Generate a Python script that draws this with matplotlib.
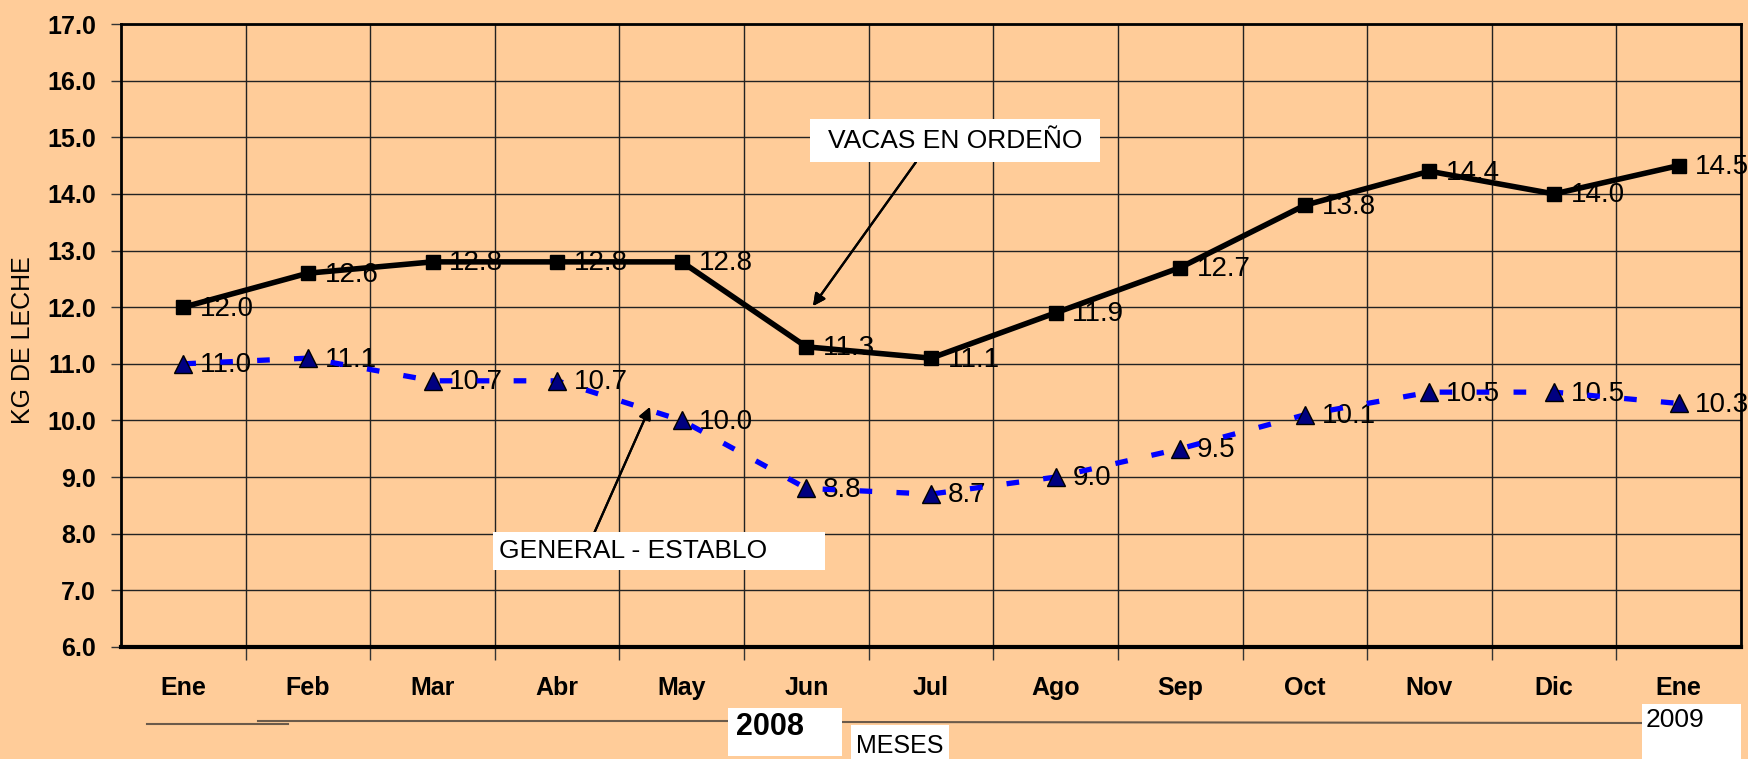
import matplotlib
matplotlib.use("Agg")
import matplotlib.pyplot as plt
from matplotlib.patches import Rectangle
from matplotlib.lines import Line2D

plt.rcParams['font.family'] = ['Liberation Sans', 'DejaVu Sans']

# data
meses = ['Ene', 'Feb', 'Mar', 'Abr', 'May', 'Jun', 'Jul', 'Ago', 'Sep', 'Oct', 'Nov', 'Dic', 'Ene']
vacas_ordeno = [12.0, 12.6, 12.8, 12.8, 12.8, 11.3, 11.1, 11.9, 12.7, 13.8, 14.4, 14.0, 14.5]
general_establo = [11.0, 11.1, 10.7, 10.7, 10.0, 8.8, 8.7, 9.0, 9.5, 10.1, 10.5, 10.5, 10.3]
y_ticks = [6.0, 7.0, 8.0, 9.0, 10.0, 11.0, 12.0, 13.0, 14.0, 15.0, 16.0, 17.0]

BG = '#FFCC99'
W, H = 1748, 759


def px(x, y):
    """pixel position (from top-left) -> figure fraction"""
    return x / W, 1 - y / H


fig = plt.figure(figsize=(W / 100, H / 100), dpi=100, facecolor=BG)
ax = fig.add_axes([121 / W, 1 - 647 / H, (1741 - 121) / W, (647 - 24) / H])
ax.set_facecolor(BG)

x = list(range(len(meses)))

ax.plot(x, vacas_ordeno, color='black', lw=4, marker='s', markersize=10,
        zorder=4)
ax.plot(x, general_establo, color='#0000FF', lw=3.8, dashes=(2.4, 4.6),
        marker='^', markersize=13, markerfacecolor='#000080',
        markeredgecolor='black', markeredgewidth=1, zorder=4)

for xi, v in zip(x, vacas_ordeno):
    ax.annotate(f'{v:.1f}', (xi, v), xytext=(12, -1), textcoords='offset points',
                ha='left', va='center', fontsize=20, zorder=2)
for xi, v in zip(x, general_establo):
    ax.annotate(f'{v:.1f}', (xi, v), xytext=(12, -1), textcoords='offset points',
                ha='left', va='center', fontsize=20, zorder=2)

ax.set_xlim(-0.5, len(meses) - 0.5)
ax.set_ylim(6, 17)
ax.set_yticks(y_ticks)
ax.set_yticklabels([f'{t:.1f}' for t in y_ticks], fontsize=18, fontweight='bold')

# tick marks on the category borders, labels in the middle
ax.set_xticks([i + 0.5 for i in range(len(meses) - 1)])
ax.set_xticklabels([])
ax.set_xticks(x, minor=True)
ax.set_xticklabels(meses, minor=True, fontsize=18, fontweight='bold')
ax.tick_params(axis='x', which='major', direction='out', length=9, width=1, color='#333333')
ax.tick_params(axis='x', which='minor', length=0, pad=21)
ax.tick_params(axis='y', direction='out', length=7, width=1, color='#333333', pad=11)

ax.grid(True, which='major', color='#222222', lw=1.0)
ax.set_axisbelow(True)
for side, w in [('left', 2), ('bottom', 3), ('top', 2), ('right', 2)]:
    ax.spines[side].set_linewidth(w)
    ax.spines[side].set_color('black')

fig.text(23 / W, 1 - 340 / H, 'KG DE LECHE', rotation=90, ha='center', va='center',
         fontsize=18)

# callout boxes with arrows
def box(x0, y0, x1, y1):
    fx0, fy1 = px(x0, y1)
    fx1, fy0 = px(x1, y0)
    fig.patches.append(Rectangle((fx0, fy1), fx1 - fx0, fy0 - fy1, transform=fig.transFigure,
                                 facecolor='white', edgecolor='none', zorder=5))


box(810, 119, 1100, 162)
fig.text(*px(955, 141), 'VACAS EN ORDEÑO', ha='center', va='center', fontsize=19, zorder=6)
fig.add_artist(plt.annotate('', xy=px(813, 306), xycoords='figure fraction',
                            xytext=px(916, 162), textcoords='figure fraction',
                            arrowprops=dict(arrowstyle='-|>', color='black', lw=1.6,
                                            mutation_scale=18, shrinkA=0, shrinkB=0)))

box(493, 532, 825, 570)
fig.text(*px(499, 551), 'GENERAL - ESTABLO', ha='left', va='center', fontsize=19, zorder=6)
fig.add_artist(plt.annotate('', xy=px(650, 407), xycoords='figure fraction',
                            xytext=px(592, 538), textcoords='figure fraction',
                            arrowprops=dict(arrowstyle='-|>', color='black', lw=1.6,
                                            mutation_scale=18, shrinkA=0, shrinkB=0)))

# year markers under the axis
for (xa, ya), (xb, yb) in [((147, 724), (288, 724)), ((258, 721), (728, 721)),
                           ((842, 722), (1642, 723))]:
    fx, fy = zip(px(xa, ya), px(xb, yb))
    fig.add_artist(Line2D(fx, fy, transform=fig.transFigure, color='#6b5a4a', lw=1.5))

box(728, 708, 842, 756)
fig.text(*px(736, 727), '2008', ha='left', va='center', fontsize=22, fontweight='bold', zorder=6)
box(851, 725, 949, 759)
fig.text(*px(856, 746), 'MESES', ha='left', va='center', fontsize=18, zorder=6)
box(1642, 704, 1741, 759)
fig.text(*px(1646, 720), '2009', ha='left', va='center', fontsize=19, zorder=6)

fig.savefig('out.png', dpi=100, facecolor=BG)
